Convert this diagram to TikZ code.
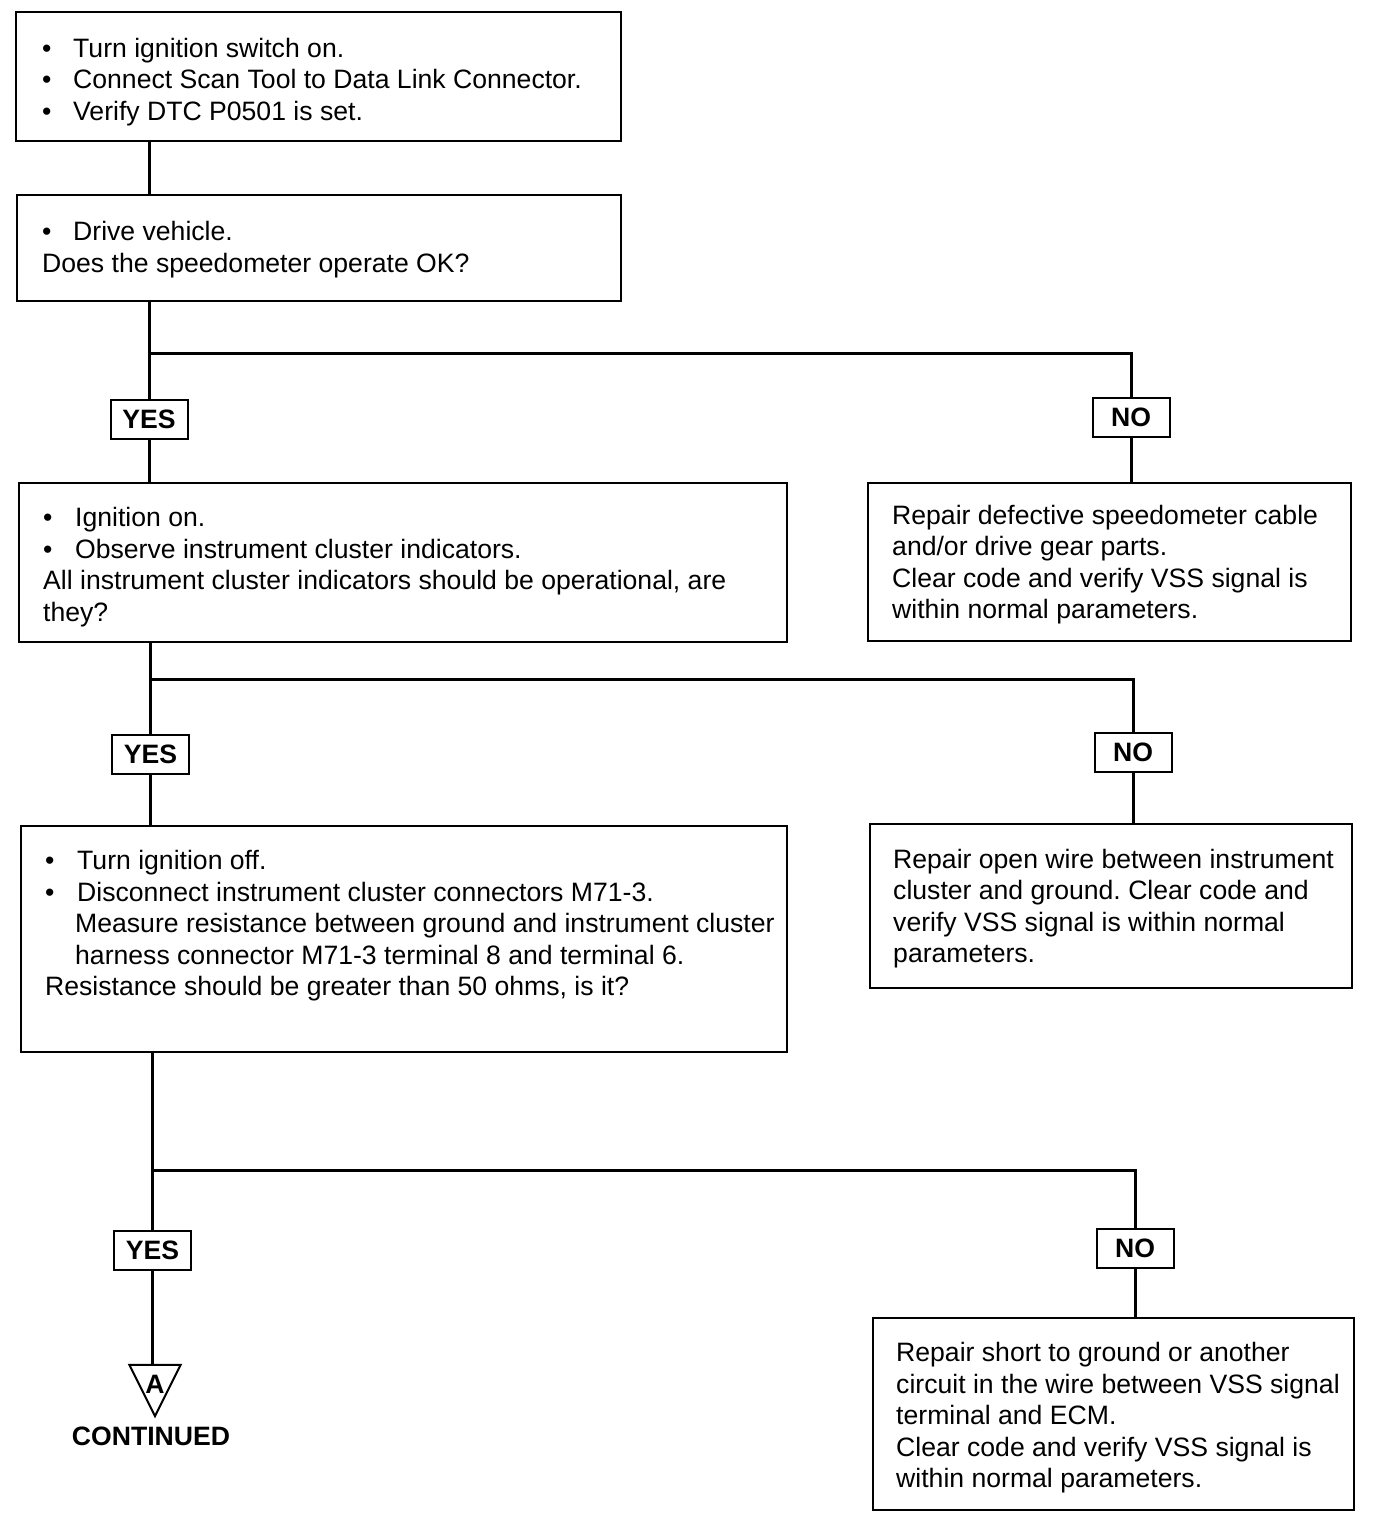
\documentclass[tikz,border=0pt]{standalone}
\usepackage{fontspec}
\setmainfont{Liberation Sans}
\frenchspacing
\newcommand{\bul}[2][31pt]{\makebox[#1][l]{\textbullet}#2}
\newcommand{\fs}{\fontsize{26.6}{31.5}\selectfont}
\begin{document}
\begin{tikzpicture}[x=1pt,y=-1pt,
  box/.style={draw, line width=2.8pt, rectangle, inner sep=0pt},
  txt/.style={anchor=west, align=left, inner sep=0pt, font=\fs},
  tag/.style={draw, line width=2pt, rectangle, inner sep=0pt, font=\fs\bfseries, minimum width=77, minimum height=39},
  wire/.style={line width=3pt}]
\useasboundingbox (0,0) rectangle (1392,1528);
% boxes
\node[box, minimum width=605, minimum height=129] (b1) at (318.5,76.5) {};
\node[box, minimum width=604, minimum height=106] (b2) at (319,248) {};
\node[box, minimum width=768, minimum height=159] (b3) at (403,562.5) {};
\node[box, minimum width=483, minimum height=158] (b4) at (1109.5,562) {};
\node[box, minimum width=766, minimum height=226] (b5) at (404,939) {};
\node[box, minimum width=482, minimum height=164] (b6) at (1111,906) {};
\node[box, minimum width=481, minimum height=192] (b7) at (1113.5,1414) {};
% texts
\node[txt] (t1) at (42,82) {\bul{Turn ignition switch on.}\\ \bul{Connect Scan Tool to Data Link Connector.}\\ \bul{Verify DTC P0501 is set.}};
\node[txt] (t2) at (42,249.5) {\bul{Drive vehicle.}\\ Does the speedometer operate OK?};
\node[txt] (t3) at (43,567) {\bul[32pt]{Ignition on.}\\ \bul[32pt]{Observe instrument cluster indicators.}\\ All instrument cluster indicators should be operational, are\\ they?};
\node[txt] (t4) at (892,564.5) {Repair defective speedometer cable\\ and/or drive gear parts.\\ Clear code and verify VSS signal is\\ within normal parameters.};
\node[txt] (t5) at (45,926) {\bul[32pt]{Turn ignition off.}\\ \bul[32pt]{Disconnect instrument cluster connectors M71-3.}\\ \hspace*{30pt}Measure resistance between ground and instrument cluster\\ \hspace*{30pt}harness connector M71-3 terminal 8 and terminal 6.\\ Resistance should be greater than 50 ohms, is it?};
\node[txt] (t6) at (893,908.5) {Repair open wire between instrument\\ cluster and ground. Clear code and\\ verify VSS signal is within normal\\ parameters.};
\node[txt] (t7) at (896,1418) {Repair short to ground or another\\ circuit in the wire between VSS signal\\ terminal and ECM.\\ Clear code and verify VSS signal is\\ within normal parameters.};
% tags
\node[tag] (y1) at (149,419) {YES};
\node[tag] (n1) at (1131,417.5) {NO};
\node[tag] (y2) at (150.5,754.5) {YES};
\node[tag] (n2) at (1133,752.5) {NO};
\node[tag] (y3) at (152.5,1250) {YES};
\node[tag] (n3) at (1135,1248.5) {NO};
% junctions
\coordinate (j1) at (149,353);
\coordinate (j2) at (150.5,679);
\coordinate (j3) at (152.5,1170);
% connector triangle
\node[minimum width=51, minimum height=51, inner sep=0pt] (tri) at (155,1390.5) {};
\draw[line width=2pt, line join=miter] (tri.north west) -- (tri.north east) -- (tri.south) -- cycle;
\node[font=\fs\bfseries, inner sep=0pt] (A) at (155,1384) {A};
\node[font=\fs\bfseries, inner sep=0pt] (cont) at (151,1436) {CONTINUED};
% connectors
\draw[wire] (b1.south -| y1) -- (b2.north -| y1);
\draw[wire] (b2.south -| y1) -- (y1.north);
\draw[wire] (j1) -| (n1.north);
\draw[wire] (y1.south) -- (b3.north -| y1);
\draw[wire] (n1.south) -- (b4.north -| n1);
\draw[wire] (b3.south -| y2) -- (y2.north);
\draw[wire] (j2) -| (n2.north);
\draw[wire] (y2.south) -- (b5.north -| y2);
\draw[wire] (n2.south) -- (b6.north -| n2);
\draw[wire] (b5.south -| y3) -- (y3.north);
\draw[wire] (j3) -| (n3.north);
\draw[wire] (y3.south) -- (tri.north -| y3);
\draw[wire] (n3.south) -- (b7.north -| n3);
\end{tikzpicture}
\end{document}
